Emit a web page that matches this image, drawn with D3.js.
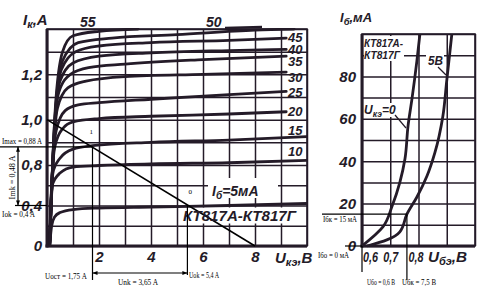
<!DOCTYPE html>
<html><head><meta charset="utf-8">
<script src="https://cdn.jsdelivr.net/npm/d3@7"></script>
<style>body{margin:0;background:#fff}svg{display:block}</style>
</head><body>
<svg id="c" width="488" height="298"></svg>
<script>
// ---------- DATA: output characteristics Ik(Uke), Ib in mA ----------
const ibLevels = [5, 10, 15, 20, 25, 30, 35, 40, 45, 50, 55];
const ik5  = [[0.1,0],[0.18,0.2],[0.3,0.29],[0.5,0.33],[1,0.36],[2,0.375],[4,0.385],[7,0.4],[10,0.42]];
const ik10 = [[0.1,0],[0.14,0.35],[0.2,0.6],[0.5,0.72],[1,0.78],[2,0.795],[4,0.805],[7,0.81],[10,0.82]];
const ik15 = [[0.1,0],[0.16,0.5],[0.25,0.75],[0.5,0.83],[1,0.87],[1.75,0.885],[4,0.9],[7,0.91],[10,0.925]];
const ik20 = [[0.1,0],[0.18,0.6],[0.3,0.88],[0.6,0.96],[1,0.99],[2,1.005],[4,1.015],[7,1.025],[9.2,1.035]];
const ik25 = [[0.1,0],[0.2,0.7],[0.35,0.95],[0.7,1.04],[1.2,1.065],[2,1.075],[4,1.09],[7,1.11],[9.2,1.125]];
const ik30 = [[0.1,0],[0.22,0.8],[0.4,1.05],[0.8,1.14],[1.5,1.17],[3,1.19],[6,1.2],[9.2,1.21]];
const ik35 = [[0.1,0],[0.24,0.85],[0.45,1.12],[0.9,1.2],[1.6,1.23],[3,1.245],[6,1.265],[9.2,1.28]];
const ik40 = [[0.1,0],[0.26,0.9],[0.5,1.17],[1,1.25],[2,1.28],[4,1.295],[7,1.305],[9.2,1.31]];
const ik45 = [[0.1,0],[0.28,0.95],[0.55,1.22],[1.1,1.3],[2,1.325],[4,1.34],[7,1.35],[9.2,1.36]];
const ik50 = [[0.1,0],[0.3,1.0],[0.6,1.26],[1.2,1.34],[2.5,1.36],[5,1.375],[8,1.395],[9.5,1.4]];
const ik55 = [[0.1,0],[0.32,1.05],[0.6,1.3],[1,1.37],[2,1.39],[3.5,1.4]];
const outputCurves = [ik5, ik10, ik15, ik20, ik25, ik30, ik35, ik40, ik45, ik50, ik55];

const loadLine = [[0, 1.0], [8, 0]];
const pointQ1 = [1.75, 0.88];   // "1"
const pointQ0 = [5.4, 0.4];     // "0"

const uGrid = [0,1,2,3,4,5,6,7,8,9,10];
const uTicks = [2, 4, 6, 8];
const ikGrid = [0,0.2,0.4,0.6,0.8,0.9,1.0,1.1,1.2,1.3,1.4];
const ikTicks = [0, 0.4, 0.8, 1.0, 1.2];
const ikTickLabels = ["0", "0,4", "0,8", "1,0", "1,2"];

// ---------- DATA: input characteristics Ib(Ube) ----------
const ibUke0 = [[0.6,0],[0.674,9],[0.706,18.6],[0.734,30],[0.752,41],[0.763,56.7],[0.777,69.5],[0.794,87],[0.805,100]];
const ibUke5 = [[0.618,0],[0.688,2.9],[0.734,6.7],[0.759,15],[0.794,23],[0.83,33],[0.858,44],[0.886,61],[0.9,78],[0.918,100]];
const ubeGrid = [0.6, 0.7, 0.8, 0.9, 1.0];
const ubeTicks = [0.6, 0.7, 0.8];
const ibGrid = [0,10,20,30,40,50,60,70,80,90,100];
const ibTicks = [0, 20, 40, 60, 80];
const pointIbk = [0.759, 15];
const pointIbo = [0.6, 0];

// ---------- DRAW ----------
const ink = "#241b28";
const svg = d3.select("#c");
const labFont = "'Liberation Sans',Arial,sans-serif";
const noteFont = "'Liberation Serif','Times New Roman',serif";
const comma = d => String(d).replace(".", ",");

// ===== Left chart =====
const xL = d3.scaleLinear().domain([0, 10]).range([47, 307]);
const yL = d3.scaleLinear().domain([0, 0.8, 1.4]).range([246, 165, 29]);

const styleGrid = g => { g.select(".domain").remove(); g.selectAll("line").attr("stroke", ink).attr("stroke-width", 1.5); };
svg.append("g").attr("transform", "translate(0,246)")
  .call(d3.axisBottom(xL).tickValues(uGrid).tickSize(-(246 - 29)).tickFormat("")).call(styleGrid);
svg.append("g").attr("transform", "translate(47,0)")
  .call(d3.axisLeft(yL).tickValues(ikGrid).tickSize(-(307 - 47)).tickFormat("")).call(styleGrid);
svg.append("rect").attr("x", xL(0)).attr("y", yL(1.4)).attr("width", xL(10) - xL(0)).attr("height", yL(0) - yL(1.4))
  .attr("fill", "none").attr("stroke", ink).attr("stroke-width", 1.6);
svg.append("line").attr("x1", xL(0)).attr("x2", xL(0)).attr("y1", yL(1.4)).attr("y2", yL(0) + 1.5).attr("stroke", ink).attr("stroke-width", 3);
svg.append("line").attr("x1", xL(0) - 1.5).attr("x2", xL(10)).attr("y1", yL(0)).attr("y2", yL(0)).attr("stroke", ink).attr("stroke-width", 3);

const boxText = (x, y, w, h) => svg.append("rect").attr("x", x).attr("y", y).attr("width", w).attr("height", h).attr("fill", "#fff");
boxText(208, 178, 70, 20);
boxText(181, 207.5, 120, 16);

svg.append("defs").append("clipPath").attr("id", "clipL").append("rect")
  .attr("x", xL(0)).attr("y", yL(1.4) - 1).attr("width", xL(10) - xL(0)).attr("height", yL(0) - yL(1.4) + 1);
const lineL = d3.line().x(d => xL(d[0])).y(d => yL(d[1])).curve(d3.curveMonotoneX);
svg.append("g").attr("clip-path", "url(#clipL)").selectAll("path").data(outputCurves).join("path")
  .attr("d", lineL).attr("fill", "none").attr("stroke", ink).attr("stroke-width", 2.8).attr("stroke-linecap", "round");

svg.append("path").attr("d", d3.line().x(d => xL(d[0])).y(d => yL(d[1]))(loadLine))
  .attr("fill", "none").attr("stroke", "#000").attr("stroke-width", 1.6);

const styleLab = (g, size, len) => {
  g.select(".domain").remove();
  const t = g.selectAll("text").attr("font-family", labFont).attr("font-style", "italic").attr("font-weight", "bold")
    .attr("font-size", size).attr("fill", ink);
  if (len) t.attr("textLength", len).attr("lengthAdjust", "spacingAndGlyphs");
};
svg.append("g").attr("transform", "translate(47,0)")
  .call(d3.axisLeft(yL).tickValues(ikTicks).tickSize(0).tickPadding(5).tickFormat((d, i) => ikTickLabels[i])).call(g => styleLab(g, 15));
svg.append("g").attr("transform", "translate(0,246)")
  .call(d3.axisBottom(xL).tickValues(uTicks).tickSize(0).tickPadding(5).tickFormat(d => d)).call(g => styleLab(g, 15));

const itext = (x, y, size, parts, len) => {
  const t = svg.append("text").attr("x", x).attr("y", y).attr("font-family", labFont).attr("font-style", "italic")
    .attr("font-weight", "bold").attr("font-size", size).attr("fill", ink);
  if (len) t.attr("textLength", len).attr("lengthAdjust", "spacingAndGlyphs");
  parts.forEach(p => {
    const s = t.append("tspan").text(p[0]);
    if (p[1] === "sub") s.attr("font-size", size * 0.72).attr("dy", 3);
    if (p[1] === "up") s.attr("dy", -3);
  });
  return t;
};
itext(23, 25, 15, [["I"], ["к", "sub"], [",A", "up"]]);
itext(275, 263, 15, [["U"], ["кэ", "sub"], [",В", "up"]]);

const curveLabelDy = {45: 4, 40: 5, 35: 10, 30: 10, 25: 6, 20: 4, 15: -2, 10: -4};
outputCurves.forEach((c, i) => {
  const lvl = ibLevels[i];
  if (curveLabelDy[lvl] === undefined) return;
  const last = c[c.length - 1];
  itext(288, yL(last[1]) + curveLabelDy[lvl], 13, [[String(lvl)]]);
});
itext(80, 27, 14, [["55"]]);
itext(206, 27, 14, [["50"]]);
svg.append("line").attr("x1", 225).attr("x2", 262).attr("y1", 28).attr("y2", 27).attr("stroke", ink).attr("stroke-width", 2.5);
itext(212, 196, 14, [["I"], ["б", "sub"], ["=5мА", "up"]]);
itext(183, 221, 14, [["КТ817А-КТ817Г"]], 113);

// annotations (left)
const ann = (x1, y1, x2, y2) => svg.append("line").attr("x1", x1).attr("y1", y1).attr("x2", x2).attr("y2", y2).attr("stroke", "#000").attr("stroke-width", 1.2);
const note = (x, y, s, len, rot) => {
  const t = svg.append("text").attr("x", x).attr("y", y).attr("font-family", noteFont).attr("font-size", 8).attr("fill", "#000").text(s);
  if (len) t.attr("textLength", len).attr("lengthAdjust", "spacingAndGlyphs");
  if (rot) t.attr("transform", `rotate(-90,${x},${y})`);
  return t;
};
const arrow = (x, y, dir) => {
  const p = {l: [[x, y], [x + 5, y - 2], [x + 5, y + 2]], r: [[x, y], [x - 5, y - 2], [x - 5, y + 2]],
             u: [[x, y], [x - 2, y + 5], [x + 2, y + 5]], d: [[x, y], [x - 2, y - 5], [x + 2, y - 5]]}[dir];
  svg.append("path").attr("d", "M" + p.join("L") + "Z").attr("fill", "#000");
};
const q1 = [xL(pointQ1[0]), yL(pointQ1[1])];
const q0 = [xL(pointQ0[0]), yL(pointQ0[1])];
ann(0, q1[1], q1[0], q1[1]);
note(2, q1[1] - 3, "Imax = 0,88 A", 40);
ann(18, q1[1], 18, q0[1]); arrow(18, q1[1], "u"); arrow(18, q0[1], "d");
note(15, q0[1] - 6, "Imk = 0,48 A", 44, true);
ann(15, q0[1], xL(0), q0[1]);
note(2, q0[1] + 11, "Iok = 0,4 A", 33);
ann(q1[0], q1[1], q1[0], 280);
ann(q0[0], q0[1], q0[0], 275);
ann(q1[0], 273, q0[0], 273); arrow(q1[0], 273, "l"); arrow(q0[0], 273, "r");
note(45, 279, "Uост = 1,75 A", 42);
note(118, 285, "Unk = 3,65 A", 40);
note(189, 278, "Uok = 5,4 A", 30);
note(q1[0] - 3, q1[1] - 13, "1").attr("font-size", 7);
note(q0[0] + 1, q0[1] - 12, "0").attr("font-size", 7);

// ===== Right chart =====
const xR = d3.scaleLinear().domain([0.6, 1.0]).range([362, 475]);
const yR = d3.scaleLinear().domain([0, 100]).range([246, 34]);
svg.append("g").attr("transform", "translate(0,246)")
  .call(d3.axisBottom(xR).tickValues(ubeGrid).tickSize(-(246 - 34)).tickFormat("")).call(styleGrid);
svg.append("g").attr("transform", "translate(362,0)")
  .call(d3.axisLeft(yR).tickValues(ibGrid).tickSize(-(475 - 362)).tickFormat("")).call(styleGrid);
svg.append("rect").attr("x", xR(0.6)).attr("y", yR(100)).attr("width", xR(1.0) - xR(0.6)).attr("height", yR(0) - yR(100))
  .attr("fill", "none").attr("stroke", ink).attr("stroke-width", 1.6);
svg.append("line").attr("x1", xR(0.6)).attr("x2", xR(0.6)).attr("y1", yR(100)).attr("y2", yR(0) + 1.5).attr("stroke", ink).attr("stroke-width", 3);
svg.append("line").attr("x1", xR(0.6) - 1.5).attr("x2", xR(1.0)).attr("y1", yR(0)).attr("y2", yR(0)).attr("stroke", ink).attr("stroke-width", 3);

boxText(364, 36, 40, 25);
boxText(426, 54, 18, 13);
boxText(364, 103, 39, 14);

svg.append("defs").append("clipPath").attr("id", "clipR").append("rect")
  .attr("x", xR(0.6)).attr("y", yR(100)).attr("width", xR(1.0) - xR(0.6)).attr("height", yR(0) - yR(100) + 2);
const lineR = d3.line().x(d => xR(d[0])).y(d => yR(d[1])).curve(d3.curveMonotoneY);
svg.append("g").attr("clip-path", "url(#clipR)").selectAll("path").data([ibUke0, ibUke5]).join("path")
  .attr("d", lineR).attr("fill", "none").attr("stroke", ink).attr("stroke-width", 2.8);

svg.append("g").attr("transform", "translate(362,0)")
  .call(d3.axisLeft(yR).tickValues(ibTicks).tickSize(0).tickPadding(6).tickFormat(d => d)).call(g => styleLab(g, 15));
const ubeLabelDx = [8, 0, -3];
svg.append("g").attr("transform", "translate(0,246)")
  .call(d3.axisBottom(xR).tickValues(ubeTicks).tickSize(0).tickPadding(5).tickFormat(comma))
  .call(g => styleLab(g, 15, 15))
  .call(g => g.selectAll("text").attr("dx", (d, i) => ubeLabelDx[i]));
itext(340, 22, 13, [["I"], ["б", "sub"], [",мА", "up"]]);
itext(428, 262, 15, [["U"], ["бэ", "sub"], [",В", "up"]], 39);
itext(364, 47, 11, [["КТ817А-"]], 39);
itext(364, 59, 11, [["КТ817Г"]], 36);
itext(428, 65, 12, [["5В"]], 15);
itext(364, 114, 12, [["U"], ["кэ", "sub"], ["=0", "up"]]);
ann(438, 67, 446, 75).attr("stroke", ink);
ann(395, 115, 406, 128).attr("stroke", ink);

// annotations (right)
const pk = [xR(pointIbk[0]), yR(pointIbk[1])];
const p0 = [xR(pointIbo[0]), yR(pointIbo[1])];
ann(322, pk[1], pk[0], pk[1]);
ann(pk[0], pk[1], pk[0], 280);
ann(345, p0[1], p0[0], p0[1]);
ann(p0[0], p0[1], p0[0], 272);
note(323, pk[1] + 8, "Iбк = 15 мА", 34);
note(318, p0[1] + 12, "Iбо = 0 мА", 31);
note(367, 285, "Uбо = 0,6 В", 28);
note(402, 285, "Uбк = 7,5 В", 34);
</script>
</body></html>
